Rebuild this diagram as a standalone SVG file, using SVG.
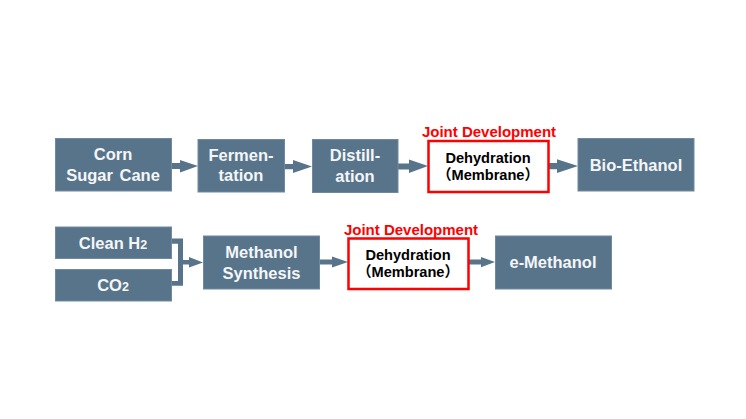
<svg xmlns="http://www.w3.org/2000/svg" width="746" height="419" viewBox="0 0 746 419">
<style>
text{font-family:"Liberation Sans","Noto Sans CJK JP",Arial,sans-serif;font-weight:700;text-anchor:middle}
.b{fill:#58748a;stroke:#6f8aa0;stroke-width:1}
.w{fill:#f4f6f8;font-size:16.500px}
.s{font-size:12.500px}
.r{fill:#fff;stroke:#ff0000;stroke-width:2.500}
.k{fill:#000;font-size:14.600px}
.j{fill:#ff0000;font-size:15px}
.a{fill:#58748a}
</style>
<rect width="746" height="419" fill="#fff"/>
<g id="connectors">
<path class="a" d="M172 163h8v-3l18 6-18 6.500v-3.500h-8z"/>
<path class="a" d="M285 164h8v-4l19 6.500-19 6.500v-3.700h-8z"/>
<path class="a" d="M398 163.500h11v-4l19 6.500-19 7v-3.500h-11z"/>
<path class="a" d="M549 163h8v-3.700l21 6.700-21 7v-3.700h-8z"/>
<path class="a" d="M172 238.500h11v21.500h6v-3l14 5.500-14 5v-3h-6v21.200h-11v-4.700h6v-37.300h-6z"/>
<path class="a" d="M320 259.500h12v-3l16 5.500-16 5.500v-3h-12z"/>
<path class="a" d="M469 259.500h12v-2.500l14 5-14 5.300v-2.800h-12z"/>
</g>
<g id="corn"><rect class="b" x="55.500" y="138.500" width="116" height="52.500"/><text class="w" x="113" y="160">Corn</text><text class="w" x="113" y="181" word-spacing="2">Sugar Cane</text></g>
<g id="fermentation"><rect class="b" x="198" y="139.500" width="86.500" height="52.500"/><text class="w" x="241" y="161">Fermen-</text><text class="w" x="241" y="181">tation</text></g>
<g id="distillation"><rect class="b" x="312.500" y="139.500" width="85.500" height="53"/><text class="w" x="355" y="161">Distill-</text><text class="w" x="355" y="182">ation</text></g>
<g id="dehydration-1"><rect class="r" x="428.500" y="141" width="120" height="51"/><text class="k" x="488" y="163">Dehydration</text><text class="k" x="488" y="180">（Membrane）</text><text class="j" x="489" y="137">Joint Development</text></g>
<g id="bio-ethanol"><rect class="b" x="578" y="138.500" width="116" height="52.500"/><text class="w" x="636" y="171">Bio-Ethanol</text></g>
<g id="clean-h2"><rect class="b" x="55.500" y="227" width="116" height="31.500"/><text class="w" x="113" y="249">Clean H<tspan class="s">2</tspan></text></g>
<g id="co2"><rect class="b" x="55.500" y="269.500" width="116" height="31.500"/><text class="w" x="113" y="291">CO<tspan class="s">2</tspan></text></g>
<g id="methanol-synthesis"><rect class="b" x="203.500" y="236" width="116" height="53"/><text class="w" x="261.500" y="258">Methanol</text><text class="w" x="261.500" y="279">Synthesis</text></g>
<g id="dehydration-2"><rect class="r" x="348.500" y="238.500" width="120" height="50.500"/><text class="k" x="408" y="260">Dehydration</text><text class="k" x="408" y="277">（Membrane）</text><text class="j" x="411" y="235">Joint Development</text></g>
<g id="e-methanol"><rect class="b" x="495.500" y="236" width="116" height="53"/><text class="w" x="553" y="268">e-Methanol</text></g>
</svg>
